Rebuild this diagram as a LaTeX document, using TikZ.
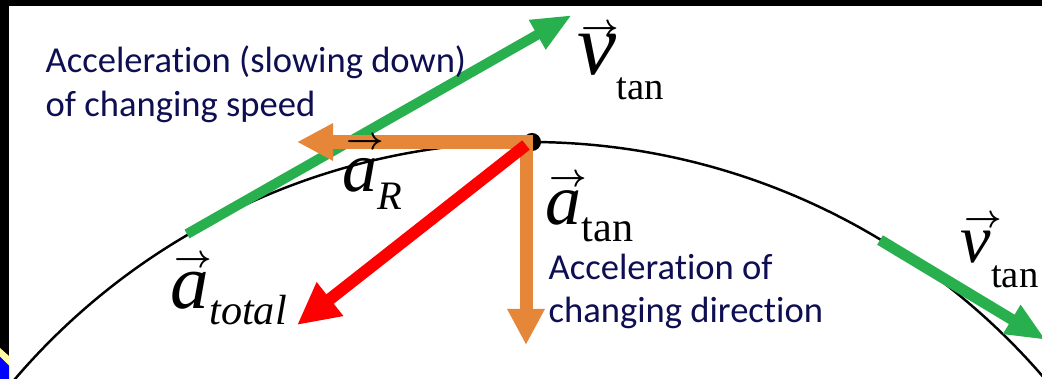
\documentclass[tikz,border=0pt]{standalone}
\usepackage{fontspec}
\setmainfont{Carlito}[Ligatures=NoCommon]
\newfontfamily\tnr{Liberation Serif}
\usetikzlibrary{arrows.meta}

\definecolor{vgreen}{RGB}{40,176,78}
\definecolor{aorange}{RGB}{229,134,56}
\definecolor{navy}{RGB}{14,14,82}

% small arrow set over a letter (raise given)
\newcommand{\varr}[1]{\rlap{\kern1.2pt\raisebox{#1}{\fontsize{9}{9}\selectfont\boldmath$\rightarrow$}}}

\tikzset{
  vel/.style={vgreen, line width=0.1cm, -{Triangle[length=0.4cm,width=0.31cm]}},
  acc/.style={aorange, line width=0.13cm, -{Triangle[length=0.36cm,width=0.35cm]}},
  tot/.style={red, line width=0.12cm, -{Triangle[length=0.42cm,width=0.4cm]}},
  note/.style={navy, font=\fontsize{10.4}{12.5}\selectfont, inner sep=0pt, anchor=base west},
  sym/.style={inner sep=0pt, anchor=base west, font=\tnr},
}

\begin{document}
\begin{tikzpicture}[x=0.01cm,y=-0.01cm]
  \useasboundingbox (0,0) rectangle (1042,379);
  \fill[white] (0,0) rectangle (1042,379);
  % path of the particle
  \begin{scope}
    \clip (0,0) rectangle (1042,379);
    \draw[line width=0.7pt] (530,820) ++(215:678) arc[start angle=215, end angle=325, radius=678];
  \end{scope}
  % slide edge
  \fill[black] (0,0) rectangle (1042,6);
  \fill[black] (0,0) rectangle (9,379);
  \fill[yellow!35] (0,348) -- (9,356) -- (9,366) -- (0,357) -- cycle;
  \fill[blue] (0,357) -- (9,366) -- (9,379) -- (0,379) -- cycle;

  \coordinate (v1s) at (187,234);
  \coordinate (v1t) at (572,15);
  \coordinate (v2s) at (880,240);
  \coordinate (v2t) at (1046,340);
  \draw[vel] (v1s) -- (v1t);
  \draw[vel, line width=0.11cm] (v2s) -- (v2t);

  \node[note] (slow1) at (45,73) {Acceleration (slowing down)};
  \node[note] (slow2) at (45,117) {of changing speed};
  \node[note] (dir1) at (548,280) {Acceleration of};
  \node[note] (dir2) at (548,323) {changing direction};

  \node[circle, fill=black, inner sep=0pt, minimum size=0.18cm] (dot) at (532,142) {};
  \coordinate (aRt) at (297,142);
  \coordinate (atop) at (526,135);
  \coordinate (att) at (526,345);
  \coordinate (rs) at (526,145);
  \coordinate (rt) at (297,325);
  \draw[acc] (dot.center) -- (aRt);
  \draw[acc] (atop) -- (att);
  \draw[tot] (rs) -- (rt);

  \node[sym] (vtan1) at (577,75) {\fontsize{25}{25}\selectfont\varr{11pt}\textit{v}\raisebox{-7pt}{\fontsize{11}{11}\selectfont tan}};
  \node[sym] (aR) at (342,192) {\fontsize{20}{20}\selectfont\varr{12pt}\textit{a}\raisebox{-5.1pt}{\fontsize{11.5}{11.5}\selectfont\itshape R}};
  \node[sym] (atan) at (545,225) {\fontsize{20.5}{20.5}\selectfont\varr{11pt}\textit{a}\raisebox{-4.8pt}{\fontsize{12}{12}\selectfont tan}};
  \node[sym] (atotal) at (170,308) {\fontsize{22}{22}\selectfont\varr{11.5pt}\textit{a}\raisebox{-4.8pt}{\fontsize{12}{12}\selectfont\itshape total}};
  \node[sym] (vtan2) at (960,263) {\fontsize{19.5}{19.5}\selectfont\varr{10pt}\textit{v}\raisebox{-7.1pt}{\fontsize{11}{11}\selectfont tan}};
\end{tikzpicture}
\end{document}
